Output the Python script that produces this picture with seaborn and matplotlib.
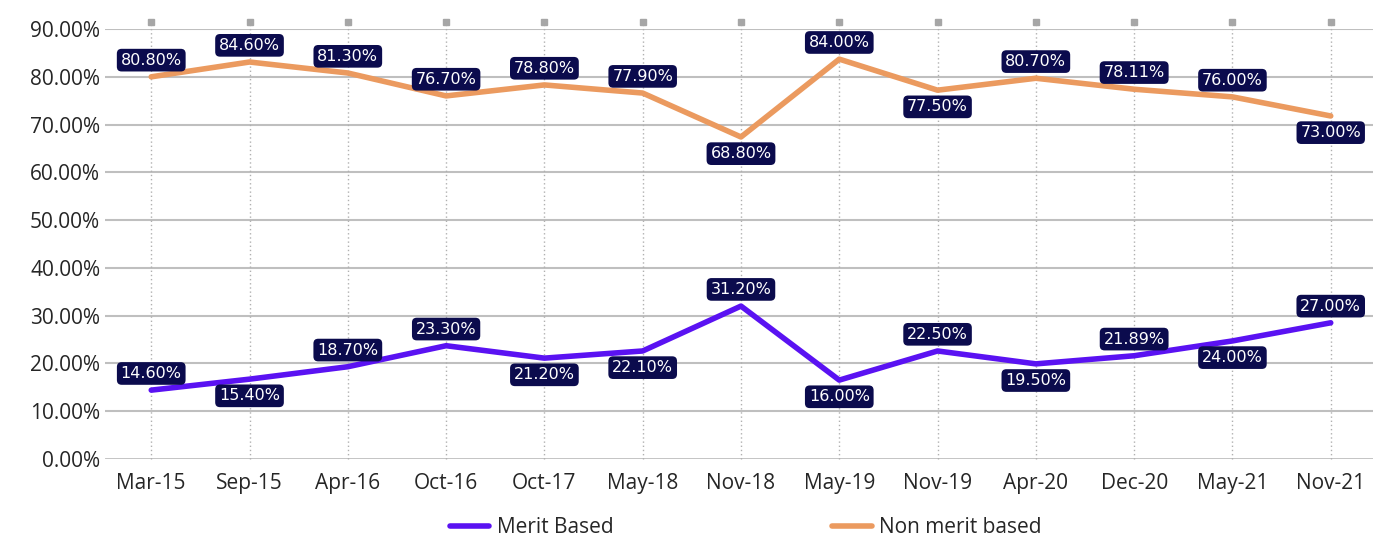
import numpy as np
import pandas as pd
import seaborn as sns
import matplotlib.pyplot as plt

# === DATA ===

periods = ['Mar-15', 'Sep-15', 'Apr-16', 'Oct-16', 'Oct-17', 'May-18', 'Nov-18',
           'May-19', 'Nov-19', 'Apr-20', 'Dec-20', 'May-21', 'Nov-21']

#plotted line values
merit = [14.4, 16.7, 19.3, 23.7, 21.1, 22.6, 32.0, 16.5, 22.6, 19.9, 21.6, 24.7, 28.5]
non_merit = [80.0, 83.1, 80.8, 76.0, 78.3, 76.6, 67.4, 83.7, 77.2, 79.7, 77.4, 75.8, 71.8]

#data labels as printed on the chart
merit_labels = ['14.60%', '15.40%', '18.70%', '23.30%', '21.20%', '22.10%', '31.20%',
                '16.00%', '22.50%', '19.50%', '21.89%', '24.00%', '27.00%']
non_merit_labels = ['80.80%', '84.60%', '81.30%', '76.70%', '78.80%', '77.90%', '68.80%',
                    '84.00%', '77.50%', '80.70%', '78.11%', '76.00%', '73.00%']

#label placement: 1 = above the point, -1 = below
merit_side = [1, -1, 1, 1, -1, -1, 1, -1, 1, -1, 1, -1, 1]
non_merit_side = [1, 1, 1, 1, 1, 1, -1, 1, -1, 1, 1, 1, -1]

df = pd.DataFrame({'Period': periods * 2,
                   'Value': merit + non_merit,
                   'Series': ['Merit Based'] * len(periods) + ['Non merit based'] * len(periods)})

# === PLOT ===

sns.set_style('white')
plt.rcParams['font.family'] = ['Open Sans', 'DejaVu Sans']

colors = {'Merit Based': '#5A12F2', 'Non merit based': '#EB9A5F'}
grid_col = '#BFBFBF'
label_bg = '#0B0B4D'

fig = plt.figure(figsize=(13.73, 5.38), dpi=100)
ax = fig.add_axes([0.0765, 0.147, 0.9235, 0.799])

sns.lineplot(data=df, x='Period', y='Value', hue='Series', palette=colors,
             lw=4, sort=False, ax=ax, legend=False, zorder=3)

x = np.arange(len(periods))

#horizontal grid
ax.set_ylim(0, 90)
ax.set_yticks(np.arange(0, 91, 10))
for y in np.arange(10, 91, 10):
    ax.axhline(y, color=grid_col, lw=1.5, zorder=0)
ax.axhline(0, color=grid_col, lw=2, zorder=0)

#vertical dotted lines with small squares at the top
ax.vlines(x, 0, 91.5, colors='#B0B0B0', linestyles=(0, (1, 2)), lw=1, zorder=0, clip_on=False)
ax.plot(x, [91.5] * len(x), ls='none', marker='s', ms=5, color='#A6A6A6', clip_on=False)

#data label boxes
for vals, labs, side in [(merit, merit_labels, merit_side), (non_merit, non_merit_labels, non_merit_side)]:
    for i in range(len(periods)):
        ax.annotate(labs[i], (i, vals[i]), xytext=(0, 12 * side[i]), textcoords='offset points',
                    ha='center', va='center', color='white', fontsize=11.5, zorder=5,
                    family=['DejaVu Sans'],
                    bbox=dict(boxstyle='round,pad=0.24,rounding_size=0.3', fc=label_bg, ec='none'))

ax.set_xlim(-0.47, 12.43)
ax.set_xticks(x)
ax.set_xticklabels(periods)
ax.set_yticklabels([f'{v:.2f}%' for v in np.arange(0, 91, 10)])
ax.tick_params(axis='both', labelsize=15, colors='#262626', length=0)
ax.tick_params(axis='x', pad=10)
ax.set_xlabel('')
ax.set_ylabel('')
sns.despine(ax=ax, left=True, bottom=True)

#legend at the bottom
handles = [plt.Line2D([], [], color=colors[k], lw=4, solid_capstyle='round') for k in colors]
fig.legend(handles, list(colors), loc='lower center', bbox_to_anchor=(0.543, -0.035), ncol=2,
           frameon=False, fontsize=15, columnspacing=10.5, handlelength=1.9, handletextpad=0.35)

plt.savefig('out.png', dpi=100)
